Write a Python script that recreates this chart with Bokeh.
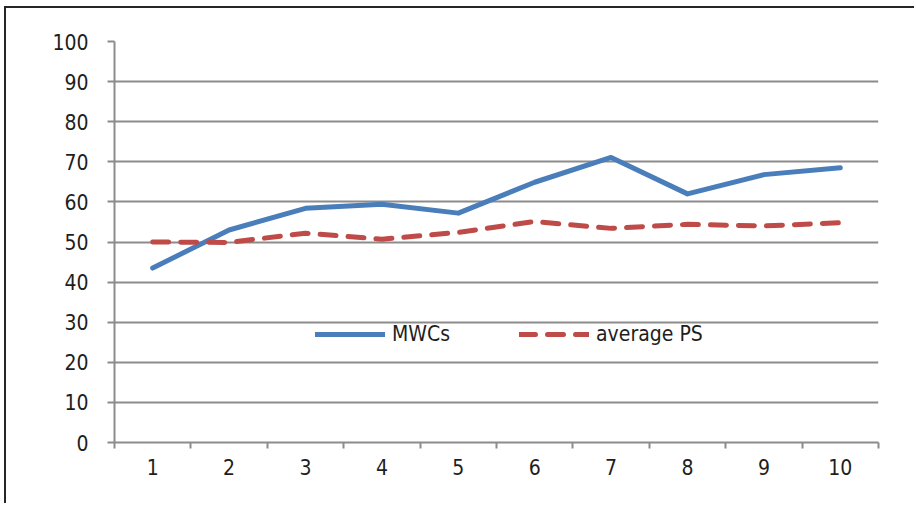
from bokeh.plotting import figure
from bokeh.models import FixedTicker, Legend, LegendItem, Range1d
from bokeh.embed import file_html
from bokeh.resources import INLINE

periods = [1, 2, 3, 4, 5, 6, 7, 8, 9, 10]
mwcs = [43.5, 53.0, 58.4, 59.4, 57.2, 64.9, 71.1, 62.0, 66.8, 68.5]
avg_ps = [50.0, 49.9, 52.2, 50.7, 52.4, 55.1, 53.4, 54.4, 54.0, 54.8]
y_ticks = [0, 10, 20, 30, 40, 50, 60, 70, 80, 90, 100]

FONT = "'Liberation Sans Narrow', 'DejaVu Sans Condensed', Roboto"
GRID = "#8c8c8c"
TEXT = "#1e1e1e"

p = figure(width=910, height=497, output_backend="svg", toolbar_location=None,
           x_range=Range1d(0.5, 10.5), y_range=Range1d(0, 100),
           min_border_left=108, min_border_right=38, min_border_top=33,
           min_border_bottom=63)
p.styles = {"border-left": "2px solid #262626", "border-top": "2px solid #262626",
            "margin-left": "4px", "margin-top": "6px"}
p.outline_line_color = None
p.background_fill_color = "white"
p.border_fill_color = "white"

# grid
p.xgrid.grid_line_color = None
p.ygrid.ticker = FixedTicker(ticks=y_ticks)
p.ygrid.grid_line_color = GRID
p.ygrid.grid_line_width = 2

# y axis
p.yaxis.ticker = FixedTicker(ticks=y_ticks)
p.yaxis.axis_line_color = GRID
p.yaxis.axis_line_width = 2
p.yaxis.major_tick_line_color = GRID
p.yaxis.major_tick_line_width = 2
p.yaxis.major_tick_out = 7
p.yaxis.major_tick_in = 0
p.yaxis.minor_tick_line_color = None
p.yaxis.major_label_text_font = FONT
p.yaxis.major_label_text_font_size = "21px"
p.yaxis.major_label_text_color = TEXT
p.yaxis.major_label_standoff = 19

# x axis: labels at centers, ticks at category boundaries
p.xaxis.ticker = FixedTicker(ticks=periods, minor_ticks=[x + 0.5 for x in range(0, 11)])
p.xaxis.axis_line_color = GRID
p.xaxis.axis_line_width = 2
p.xaxis.major_tick_line_color = None
p.xaxis.minor_tick_line_color = GRID
p.xaxis.minor_tick_line_width = 2
p.xaxis.minor_tick_out = 6
p.xaxis.minor_tick_in = 0
p.xaxis.major_label_text_font = FONT
p.xaxis.major_label_text_font_size = "21px"
p.xaxis.major_label_text_color = TEXT
p.xaxis.major_label_standoff = 10

l1 = p.line(periods, mwcs, line_color="#4A7EBB", line_width=5, line_join="round", line_cap="round")
l2 = p.line(periods, avg_ps, line_color="#BE4B48", line_width=5, line_dash="16 12",
            line_cap="round", line_join="round")

legend = Legend(items=[LegendItem(label="MWCs", renderers=[l1]),
                       LegendItem(label="average PS", renderers=[l2])],
                location=(201, 96), orientation="horizontal",
                border_line_color=None, background_fill_alpha=0,
                label_text_font=FONT, label_text_font_size="21px",
                label_text_color=TEXT, glyph_width=70, glyph_height=20,
                label_height=20, spacing=69, padding=0, margin=0, label_standoff=7)
p.add_layout(legend)

open("out.html", "w").write(file_html(p, INLINE))
